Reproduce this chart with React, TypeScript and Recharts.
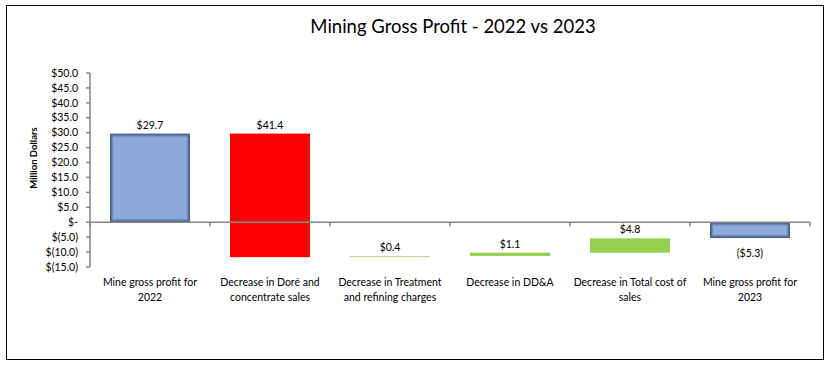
import { BarChart, Bar, XAxis, YAxis, ReferenceLine } from 'recharts';

// waterfall inputs ($ millions)
const categoryLines = [
  ['Mine gross profit for', '2022'],
  ['Decrease in Doré and', 'concentrate sales'],
  ['Decrease in Treatment', 'and refining charges'],
  ['Decrease in DD&A'],
  ['Decrease in Total cost of', 'sales'],
  ['Mine gross profit for', '2023'],
];
const startValue = 29.7;
const changes = [-41.4, 0.4, 1.1, 4.8];
const endValue = -5.3;
const valueLabels = ['$29.7', '$41.4', '$0.4', '$1.1', '$4.8', '($5.3)'];
const yTicks = [-15, -10, -5, 0, 5, 10, 15, 20, 25, 30, 35, 40, 45, 50];

const barColors = ['blue', '#FF0000', '#C3D69B', '#92D050', '#92D050', 'blue'];
const FONT = 'Lato, "Open Sans", sans-serif';

// running totals -> [low, high] ranges for each bar
const data = (() => {
  const rows: { name: string; range: [number, number] }[] = [];
  rows.push({ name: categoryLines[0].join(' '), range: [0, startValue] });
  let running = startValue;
  changes.forEach((c, i) => {
    const next = running + c;
    rows.push({ name: categoryLines[i + 1].join(' '), range: [Math.min(running, next), Math.max(running, next)] });
    running = next;
  });
  rows.push({ name: categoryLines[5].join(' '), range: [Math.min(endValue, 0), Math.max(endValue, 0)] });
  return rows;
})();

const fmtY = (v: number) => {
  if (v === 0) return '$-';
  if (v < 0) return `$(${Math.abs(v).toFixed(1)})`;
  return `$${v.toFixed(1)}`;
};

const WaterfallBar = (props: any) => {
  const { x, width, index } = props;
  const y = Math.min(props.y, props.y + props.height);
  const h = Math.max(Math.abs(props.height), 1.2);
  const color = barColors[index];
  const below = index === data.length - 1;
  const label = (
    <text
      x={x + width / 2}
      y={below ? y + h + 15 : y - 9}
      textAnchor="middle"
      dominantBaseline="central"
      fontSize={10.5}
      fontFamily={FONT}
      fill="#000"
    >
      {valueLabels[index]}
    </text>
  );
  if (color === 'blue') {
    const layers = ['#4b5c85', '#5d719d', '#7087b8', '#8aa5d8'];
    return (
      <g>
        {layers.map((c, i) => (
          <rect
            key={i}
            x={x + i}
            y={y + i}
            width={Math.max(width - i * 2, 0)}
            height={Math.max(h - i * 2, 0)}
            fill={c}
          />
        ))}
        <rect x={x + 4} y={y + 4} width={Math.max(width - 8, 0)} height={Math.max(h - 8, 0)} fill="#8EAADB" />
        {label}
      </g>
    );
  }
  return (
    <g>
      <rect x={x} y={y} width={width} height={h} fill={color} />
      {label}
    </g>
  );
};

const CategoryTick = (props: any) => {
  const { x, y, payload } = props;
  const lines = categoryLines[payload.index] || [];
  return (
    <g>
      {lines.map((l, i) => (
        <text
          key={i}
          x={x}
          y={y + 19 + i * 15}
          textAnchor="middle"
          fontSize={10.5}
          fontFamily={FONT}
          fill="#000"
        >
          {l}
        </text>
      ))}
    </g>
  );
};

// zero line with Excel-style tick marks between categories
const ZeroAxis = (props: any) => {
  const { x1, y1, x2 } = props;
  const n = data.length;
  const step = (x2 - x1) / n;
  return (
    <g>
      <line x1={x1} y1={y1} x2={x2} y2={y1} stroke="#868686" strokeWidth={1.5} />
      {Array.from({ length: n + 1 }, (_, i) => (
        <line key={i} x1={x1 + i * step} y1={y1} x2={x1 + i * step} y2={y1 + 4} stroke="#868686" strokeWidth={1.5} />
      ))}
    </g>
  );
};

export default function App() {
  return (
    <div style={{ position: 'absolute', left: 0, top: 0, width: 829, height: 366, background: '#fff' }}>
      <div
        style={{
          position: 'absolute',
          left: 6,
          top: 5,
          width: 818,
          height: 355,
          border: '1px solid #000',
          boxSizing: 'border-box',
        }}
      />
      <div
        style={{
          position: 'absolute',
          left: 153,
          top: 15,
          width: 600,
          textAlign: 'center',
          fontFamily: FONT,
          fontSize: 18.5,
          color: '#000',
        }}
      >
        Mining Gross Profit - 2022 vs 2023
      </div>
      <div
        style={{
          position: 'absolute',
          left: 34 - 50,
          top: 158 - 7,
          width: 100,
          height: 14,
          lineHeight: '14px',
          textAlign: 'center',
          transform: 'rotate(-90deg)',
          fontFamily: FONT,
          fontWeight: 700,
          fontSize: 9.5,
          color: '#000',
        }}
      >
        Million Dollars
      </div>
      <div style={{ position: 'absolute', left: 0, top: 0 }}>
        <BarChart width={829} height={366} data={data} margin={{ top: 73, right: 19, bottom: 59, left: 10 }} barSize={80}>
          <XAxis
            dataKey="name"
            height={40}
            interval={0}
            axisLine={false}
            tickLine={false}
            tickSize={0}
            tickMargin={0}
            tick={<CategoryTick />}
          />
          <YAxis
            type="number"
            domain={[-15, 50]}
            ticks={yTicks}
            interval={0}
            width={80}
            tickFormatter={fmtY}
            axisLine={{ stroke: '#868686', strokeWidth: 1.5 }}
            tickLine={{ stroke: '#868686', strokeWidth: 1.5 }}
            tickSize={4}
            tickMargin={8}
            tick={{ fontSize: 10.5, fontFamily: FONT, fill: '#000' }}
          />
          <Bar dataKey="range" isAnimationActive={false} shape={<WaterfallBar />} />
          <ReferenceLine y={0} shape={<ZeroAxis />} />
        </BarChart>
      </div>
    </div>
  );
}
